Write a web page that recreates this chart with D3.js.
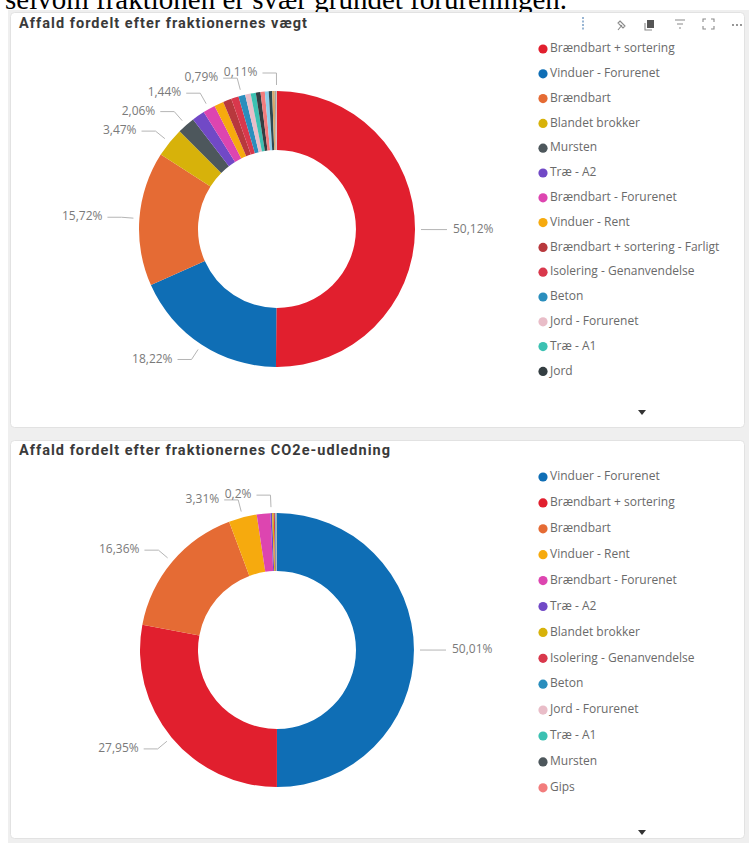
<!DOCTYPE html>
<html><head><meta charset="utf-8">
<script src="https://cdn.jsdelivr.net/npm/d3@7"></script>
<style>
html,body{margin:0;padding:0;background:#fff;overflow:hidden;}
svg{display:block;}
</style></head>
<body>
<svg id="c" width="749" height="843"></svg>
<script>
// ---------- DATA ----------
const pageLine = "selvom fraktionen er svær grundet forureningen.";

const weightTitle = "Affald fordelt efter fraktionernes vægt";
const weightCategories = [
  "Brændbart + sortering","Vinduer - Forurenet","Brændbart","Blandet brokker","Mursten",
  "Træ - A2","Brændbart - Forurenet","Vinduer - Rent","Brændbart + sortering - Farligt",
  "Isolering - Genanvendelse","Beton","Jord - Forurenet","Træ - A1","Jord",
  "Gips","Asfalt","Tagpap","Metal","Glas","Pap"];
const weightValues = [50.12,18.22,15.72,3.47,2.06,1.50,1.44,1.10,1.00,0.87,0.79,0.65,0.60,0.55,0.50,0.45,0.40,0.30,0.15,0.11];
const weightLabelled = ["Brændbart + sortering","Vinduer - Forurenet","Brændbart","Blandet brokker","Mursten","Brændbart - Forurenet","Beton","Pap"];
const weightLegendVisible = 14;

const co2Title = "Affald fordelt efter fraktionernes CO2e-udledning";
const co2Categories = [
  "Vinduer - Forurenet","Brændbart + sortering","Brændbart","Vinduer - Rent","Brændbart - Forurenet",
  "Træ - A2","Blandet brokker","Isolering - Genanvendelse","Beton","Jord - Forurenet","Træ - A1","Mursten","Gips"];
const co2Values = [50.01,27.95,16.36,3.31,1.60,0.20,0.18,0.14,0.09,0.06,0.05,0.03,0.02];
const co2Labelled = ["Vinduer - Forurenet","Brændbart + sortering","Brændbart","Vinduer - Rent","Træ - A2"];
const co2LegendVisible = 13;

const paletteNames = ["Brændbart + sortering","Vinduer - Forurenet","Brændbart","Blandet brokker","Mursten",
  "Træ - A2","Brændbart - Forurenet","Vinduer - Rent","Brændbart + sortering - Farligt",
  "Isolering - Genanvendelse","Beton","Jord - Forurenet","Træ - A1","Jord","Gips","Asfalt","Tagpap","Metal","Glas","Pap"];
const paletteColors = ["#E11F2E","#0F6EB5","#E56B34","#D7B20A","#4D575C",
  "#7149C6","#DD45B0","#F6AA0E","#B8383D",
  "#D9384C","#2A8EBD","#E9BDC8","#3CC1B2","#343E42","#F27C7C","#8ECFEA","#2E4A52","#D6A86B","#A5A5A5","#C9C1B8"];

// ---------- SETUP ----------
const svg = d3.select("#c");
const color = d3.scaleOrdinal().domain(paletteNames).range(paletteColors);
const da = d3.formatLocale({decimal:",",thousands:".",grouping:[3],currency:["","kr"]});
const pct = da.format(".2~f");

// page background & doc line
svg.append("rect").attr("x",8).attr("y",10).attr("width",741).attr("height",833).attr("fill","#EFEFEF");
svg.append("text").text(pageLine).attr("x",5).attr("y",9)
  .attr("font-family","Liberation Serif, Times New Roman, serif").attr("font-size",29).attr("fill","#000");

function card(y,h){
  svg.append("rect").attr("x",10.5).attr("y",y+0.5).attr("width",734).attr("height",h)
    .attr("rx",4).attr("fill","#fff").attr("stroke","#E2E2E2");
}
card(12,415);
card(440,398);

// header icons for top card
const ic = svg.append("g").attr("stroke","#8A8A8A").attr("fill","none").attr("stroke-width",1.1);
ic.append("line").attr("x1",583).attr("x2",583).attr("y1",17).attr("y2",31).attr("stroke","#7FA3C9").attr("stroke-dasharray","2,1.5").attr("stroke-width",1.6);
ic.append("path").attr("d","M618,30 L622,25 M620,21 l5,5 l-2,2 l-5,-5 z");
ic.append("rect").attr("x",647).attr("y",20).attr("width",7).attr("height",8).attr("fill","#555").attr("stroke","none");
ic.append("path").attr("d","M645,23 v7 h7");
ic.append("path").attr("d","M675,20 h10 M677,24 h6 M679,28 h2");
ic.append("path").attr("d","M703,22 v-3 h3 M711,19 h3 v3 M714,26 v3 h-3 M706,29 h-3 v-3");
ic.append("g").selectAll("circle").data([0,1,2]).join("circle")
  .attr("cx",d=>733+d*4).attr("cy",25).attr("r",0.9).attr("fill","#666").attr("stroke","none");

function donut(cfg){
  const {title,titleY,titleW,cats,vals,labelled,legendN,cx,cy,R,r,legendY,legendStep,arrowY} = cfg;
  svg.append("text").text(title).attr("x",19).attr("y",titleY)
    .attr("font-family","Roboto, sans-serif").attr("font-weight",700).attr("font-size",14.5)
    .attr("textLength",titleW).attr("lengthAdjust","spacing")
    .attr("fill","#3A3A3A").attr("dominant-baseline","middle");

  const data = cats.map((c,i)=>({cat:c,val:vals[i]}));
  const total = d3.sum(vals);
  const pie = d3.pie().sort(null).value(d=>d.val);
  const arcs = pie(data);
  const arc = d3.arc().innerRadius(r).outerRadius(R);
  const g = svg.append("g").attr("transform",`translate(${cx},${cy})`);
  g.selectAll("path").data(arcs).join("path").attr("d",arc).attr("fill",d=>color(d.data.cat));

  // labels with leader lines
  const lab = arcs.filter(a=>labelled.includes(a.data.cat));
  const pt = (ang,rad)=>[Math.sin(ang)*rad, -Math.cos(ang)*rad];
  lab.forEach(a=>{
    const m = (a.startAngle+a.endAngle)/2;
    const left = Math.sin(m) < 0;
    const p0 = pt(m,R+6), p1 = pt(m,R+18);
    const p2 = [p1[0] + (left?-14:14), p1[1]];
    g.append("polyline").attr("points",[p0,p1,p2].map(p=>p.join(",")).join(" "))
      .attr("fill","none").attr("stroke","#B5B5B5").attr("stroke-width",1);
    g.append("text").text(pct(a.data.val/total*100)+"%")
      .attr("x",p2[0]+(left?-5:6)).attr("y",p2[1])
      .attr("text-anchor",left?"end":"start").attr("dominant-baseline","middle")
      .attr("font-family","Open Sans, sans-serif").attr("font-size",12).attr("fill","#7A7A7A");
  });

  // legend
  const lg = svg.append("g");
  const items = cats.slice(0,legendN);
  const row = lg.selectAll("g").data(items).join("g")
    .attr("transform",(d,i)=>`translate(543,${legendY+i*legendStep})`);
  row.append("circle").attr("r",4.6).attr("fill",d=>color(d));
  row.append("text").text(d=>d).attr("x",7).attr("dominant-baseline","middle")
    .attr("font-family","Open Sans, sans-serif").attr("font-size",12).attr("fill","#6A6A6A");
  svg.append("path").attr("d",`M638,${arrowY-2} h8 l-4,5 z`).attr("fill","#333");
}

donut({title:weightTitle,titleY:24,titleW:288,cats:weightCategories,vals:weightValues,labelled:weightLabelled,
  legendN:weightLegendVisible,cx:277,cy:229,R:138,r:79,legendY:49,legendStep:24.8,arrowY:412});
donut({title:co2Title,titleY:451,titleW:371,cats:co2Categories,vals:co2Values,labelled:co2Labelled,
  legendN:co2LegendVisible,cx:277,cy:650,R:137,r:79,legendY:477,legendStep:25.9,arrowY:832});
</script>
</body></html>
